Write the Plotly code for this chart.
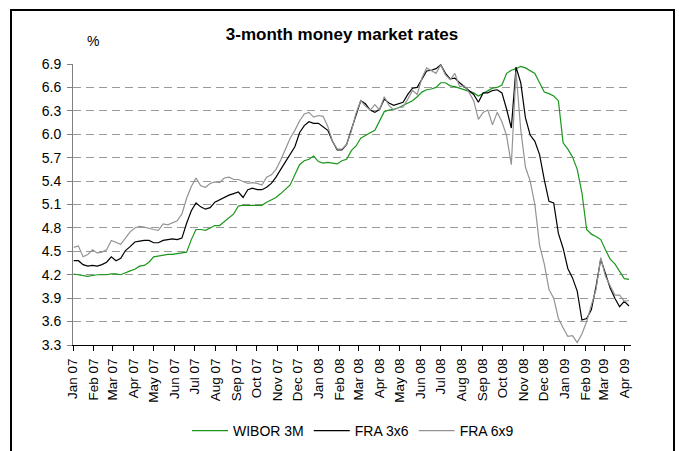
import pandas as pd
import plotly.graph_objects as go

# weekly observation dates (Tuesdays)
dates = pd.date_range("2007-01-02", periods=119, freq="7D")

wibor_3m = [
    4.21, 4.20, 4.19, 4.18, 4.19, 4.20, 4.20, 4.20, 4.21, 4.21,
    4.20, 4.23, 4.25, 4.27, 4.31, 4.32, 4.36, 4.43, 4.44, 4.45,
    4.46, 4.46, 4.47, 4.48, 4.49, 4.65, 4.78, 4.78, 4.77, 4.80,
    4.83, 4.83, 4.88, 4.92, 4.98, 5.08, 5.09, 5.09, 5.09, 5.09,
    5.09, 5.13, 5.16, 5.19, 5.24, 5.29, 5.35, 5.48, 5.61, 5.66,
    5.68, 5.72, 5.65, 5.63, 5.64, 5.63, 5.62, 5.66, 5.68, 5.79,
    5.85, 5.95, 5.99, 6.02, 6.05, 6.16, 6.29, 6.31, 6.32, 6.34,
    6.37, 6.39, 6.43, 6.48, 6.54, 6.57, 6.58, 6.60, 6.66, 6.66,
    6.62, 6.61, 6.59, 6.57, 6.55, 6.53, 6.49, 6.52, 6.55, 6.59,
    6.60, 6.63, 6.78, 6.82, 6.84, 6.87, 6.85, 6.81, 6.78, 6.66,
    6.54, 6.52, 6.49, 6.43, 5.89, 5.81, 5.71, 5.55, 5.25, 4.78,
    4.72, 4.69, 4.65, 4.52, 4.40, 4.34, 4.24, 4.15, 4.14,
]

fra_3x6 = [
    4.38, 4.38, 4.33, 4.31, 4.32, 4.31, 4.33, 4.36, 4.43, 4.38,
    4.41, 4.51, 4.56, 4.62, 4.63, 4.64, 4.64, 4.61, 4.61, 4.64,
    4.65, 4.66, 4.65, 4.67, 4.86, 5.02, 5.12, 5.07, 5.04, 5.06,
    5.13, 5.16, 5.20, 5.22, 5.24, 5.26, 5.19, 5.29, 5.31, 5.29,
    5.29, 5.32, 5.37, 5.45, 5.55, 5.65, 5.74, 5.84, 6.02, 6.11,
    6.16, 6.14, 6.14, 6.10, 6.05, 5.91, 5.80, 5.80, 5.87, 6.06,
    6.26, 6.43, 6.39, 6.31, 6.28, 6.32, 6.45, 6.40, 6.37, 6.39,
    6.41, 6.51, 6.59, 6.60, 6.70, 6.81, 6.82, 6.84, 6.89, 6.78,
    6.71, 6.72, 6.66, 6.61, 6.56, 6.51, 6.41, 6.53, 6.53, 6.56,
    6.57, 6.53, 6.32, 6.08, 6.86, 6.66, 6.21, 5.99, 5.91, 5.74,
    5.42, 5.14, 5.12, 4.73, 4.54, 4.28, 4.16, 3.99, 3.62, 3.64,
    3.75, 4.05, 4.40, 4.20, 4.03, 3.90, 3.79, 3.86, 3.80,
]

fra_6x9 = [
    4.55, 4.57, 4.43, 4.46, 4.52, 4.48, 4.49, 4.52, 4.64, 4.62,
    4.59, 4.67, 4.75, 4.80, 4.82, 4.81, 4.79, 4.78, 4.77, 4.85,
    4.84, 4.86, 4.89, 4.98, 5.18, 5.33, 5.44, 5.34, 5.32, 5.37,
    5.39, 5.38, 5.44, 5.45, 5.42, 5.42, 5.40, 5.37, 5.38, 5.37,
    5.35, 5.45, 5.48, 5.55, 5.67, 5.82, 5.95, 6.05, 6.17, 6.26,
    6.28, 6.22, 6.24, 6.23, 6.10, 5.91, 5.81, 5.81, 5.87, 6.04,
    6.27, 6.43, 6.36, 6.31, 6.38, 6.31, 6.48, 6.37, 6.31, 6.34,
    6.35, 6.45, 6.56, 6.51, 6.72, 6.85, 6.82, 6.78, 6.89, 6.76,
    6.70, 6.78, 6.61, 6.62, 6.54, 6.43, 6.19, 6.28, 6.31, 6.12,
    6.28, 6.16, 5.98, 5.61, 6.80, 6.06, 5.58, 5.40, 5.10, 4.58,
    4.34, 4.01, 3.90, 3.64, 3.52, 3.41, 3.42, 3.33, 3.44, 3.60,
    3.81, 4.01, 4.42, 4.18, 4.06, 3.94, 3.94, 3.86, 3.87,
]

y_ticks = [3.3, 3.6, 3.9, 4.2, 4.5, 4.8, 5.1, 5.4, 5.7, 6.0, 6.3, 6.6, 6.9]

FONT = "Liberation Sans, Arial, sans-serif"

fig = go.Figure()
fig.add_trace(go.Scatter(x=dates, y=wibor_3m, mode="lines", name="WIBOR 3M",
                         line=dict(color="#1a961a", width=1.2)))
fig.add_trace(go.Scatter(x=dates, y=fra_3x6, mode="lines", name="FRA 3x6",
                         line=dict(color="#000000", width=1.2)))
fig.add_trace(go.Scatter(x=dates, y=fra_6x9, mode="lines", name="FRA 6x9",
                         line=dict(color="#939393", width=1.2)))

# plot area pixel geometry
L, R, T, B = 73, 631, 64, 345
W, H = 679, 451
pw, ph = R - L, B - T

def px_x(px):
    return (px - L) / pw

def px_y(py):
    return (B - py) / ph

fig.update_layout(
    width=W, height=H,
    margin=dict(l=L, r=W - R, t=T, b=H - B, autoexpand=False),
    paper_bgcolor="white", plot_bgcolor="white",
    font=dict(family=FONT, size=14, color="#000000"),
    title=dict(text="<b>3-month money market rates</b>", x=342 / W, xanchor="center",
               y=1 - 34 / H, yanchor="middle",
               font=dict(family=FONT, size=17, color="#000000")),
    showlegend=True,
    legend=dict(orientation="h", x=353 / W, xanchor="center", xref="container",
                y=px_y(431), yanchor="middle",
                font=dict(family=FONT, size=14, color="#000000"),
                itemwidth=36, tracegroupgap=0, bgcolor="rgba(0,0,0,0)"),
    xaxis=dict(type="date", range=["2007-01-01", "2009-04-10"],
               tick0="2007-01-01", dtick="M1", tickformat="%b %y",
               tickangle=-90, ticks="outside", ticklen=5, tickcolor="#000000",
               showline=True, linecolor="#000000", linewidth=1,
               showgrid=False, zeroline=False, automargin=False,
               ticklabelstandoff=2,
               tickfont=dict(family=FONT, size=13.5, color="#000000")),
    yaxis=dict(range=[3.3, 6.9], tickvals=y_ticks,
               ticktext=[f"{v:.1f}" for v in y_ticks],
               ticks="outside", ticklen=5, tickcolor="#808080",
               showline=True, linecolor="#808080", linewidth=1,
               showgrid=True, gridcolor="#9a9a9a", gridwidth=1, griddash="8px,5px",
               zeroline=False, automargin=False, ticklabelstandoff=3,
               tickfont=dict(family=FONT, size=14, color="#000000")),
)

fig.add_annotation(text="%", xref="paper", yref="paper", x=px_x(93), y=px_y(41),
                   xanchor="center", yanchor="middle", showarrow=False,
                   font=dict(family=FONT, size=14, color="#000000"))

# outer frame
fig.add_shape(type="rect", xref="paper", yref="paper",
              x0=px_x(11), x1=px_x(674), y0=px_y(470), y1=px_y(10),
              line=dict(color="#000000", width=2), fillcolor="rgba(0,0,0,0)",
              layer="above")

fig.write_html("out.html", config={"displayModeBar": False},
               post_script="document.body.style.margin='0';document.body.style.overflow='hidden';")
